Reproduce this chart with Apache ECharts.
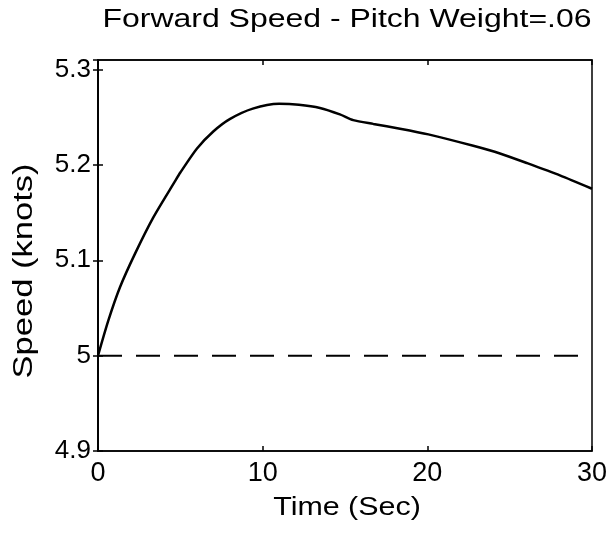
<!DOCTYPE html>
<html>
<head>
<meta charset="utf-8">
<script src="https://cdn.jsdelivr.net/npm/echarts@6/dist/echarts.min.js"></script>
<style>html,body{margin:0;padding:0;background:#fff;}#c{width:613px;height:534px;}</style>
</head>
<body>
<div id="c"></div>
<script>
var titleText = 'Forward Speed - Pitch Weight=.06';
var xName = 'Time (Sec)';
var yName = 'Speed (knots)';
var timeSec = [0, 0.63, 1.34, 2.25, 3.36, 4.68, 5.0, 6.0, 7.0, 8.0, 9.4, 11.0, 12.2, 13.48, 14.69, 15.5, 16.72, 18.34, 20.06, 22.79, 24.41, 26.03, 28.05, 30];
var speed = [5.0, 5.037, 5.072, 5.107, 5.145, 5.183, 5.192, 5.217, 5.235, 5.248, 5.259, 5.264, 5.263, 5.2597, 5.253, 5.247, 5.243, 5.238, 5.232, 5.220, 5.212, 5.202, 5.189, 5.175];
var refTime = [0, 30];
var refSpeed = [5, 5];
var xTicks = [0, 10, 20, 30];
var yTicks = [4.9, 5.0, 5.1, 5.2, 5.3];

var font = '"Liberation Sans", Arial, Helvetica, sans-serif';
var chart = echarts.init(document.getElementById('c'), null, {renderer: 'canvas'});
function pairs(a, b) { return a.map(function (v, i) { return [v, b[i]]; }); }
function isTick(list, v) { return list.some(function (t) { return Math.abs(t - v) < 1e-6; }); }
var tickStyle = {show: true, inside: true, length: 5, lineStyle: {color: '#000', width: 1.5}};
function label(text, x, y, size, sx, rot) {
  return {type: 'text', x: x, y: y, rotation: rot || 0, scaleX: sx, silent: true,
    style: {text: text, font: size + 'px ' + font, fill: '#000',
      align: 'center', verticalAlign: 'middle', textAlign: 'center', textVerticalAlign: 'middle'}};
}
chart.setOption({
  animation: false,
  backgroundColor: '#fff',
  graphic: [
    label(titleText, 347, 20, 26, 1.23, 0),
    label(xName, 347, 508, 26, 1.17, 0),
    label(yName, 25, 271, 27, 1.28, Math.PI / 2)
  ],
  grid: {left: 98, right: 21, top: 60, bottom: 83, show: true, borderColor: '#000', borderWidth: 1.5, backgroundColor: 'transparent'},
  xAxis: [{
    type: 'value', min: 0, max: 30, interval: 10, position: 'bottom',
    axisLine: {show: true, lineStyle: {color: '#000', width: 1.5}},
    axisTick: tickStyle, splitLine: {show: false},
    axisLabel: {fontFamily: font, fontSize: 27, color: '#000', margin: 9,
      formatter: function (v) { return isTick(xTicks, v) ? String(v) : ''; }}
  }, {
    type: 'value', min: 0, max: 30, interval: 10, position: 'top',
    axisLine: {show: true, lineStyle: {color: '#000', width: 1.5}},
    axisTick: tickStyle, axisLabel: {show: false}, splitLine: {show: false}
  }],
  yAxis: [{
    type: 'value', min: 4.9, max: 5.31, interval: 0.1, position: 'left',
    axisLine: {show: true, lineStyle: {color: '#000', width: 1.5}},
    axisTick: tickStyle, splitLine: {show: false},
    axisLabel: {fontFamily: font, fontSize: 26, color: '#000', margin: 7, showMaxLabel: false,
      formatter: function (v) { return isTick(yTicks, v) ? String(+v.toFixed(1)) : ''; }}
  }, {
    type: 'value', min: 4.9, max: 5.31, interval: 0.1, position: 'right',
    axisLine: {show: true, lineStyle: {color: '#000', width: 1.5}},
    axisTick: tickStyle, axisLabel: {show: false}, splitLine: {show: false}
  }],
  series: [{
    type: 'line', data: pairs(timeSec, speed), smooth: 0.25, symbol: 'none',
    lineStyle: {color: '#000', width: 2.5}, z: 3
  }, {
    type: 'line', data: pairs(refTime, refSpeed), symbol: 'none',
    lineStyle: {color: '#000', width: 2, type: [24, 14]}, z: 2
  }]
});
</script>
</body>
</html>
